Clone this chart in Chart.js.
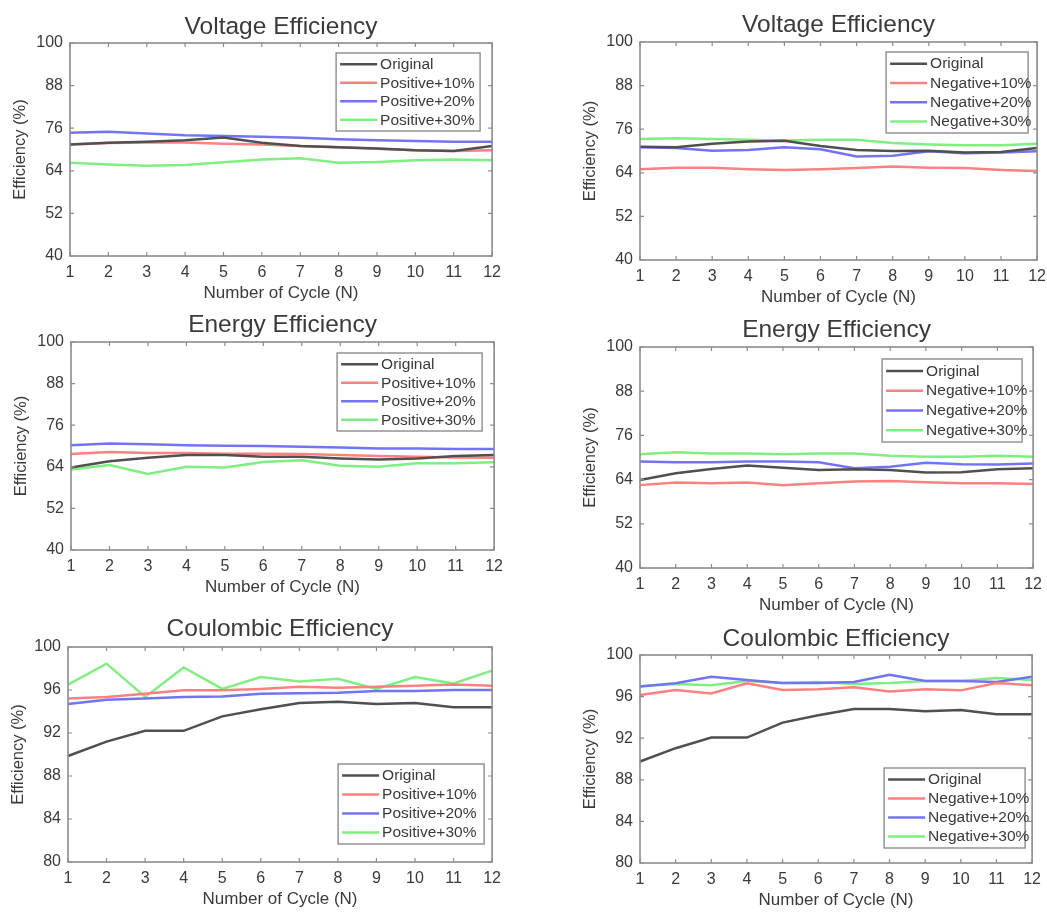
<!DOCTYPE html>
<html>
<head>
<meta charset="utf-8">
<script src="https://cdn.jsdelivr.net/npm/chart.js@4/dist/chart.umd.min.js"></script>
<style>
  html, body { margin:0; padding:0; background:#fff; width:1047px; height:913px; overflow:hidden; position:relative; }
  canvas { position:absolute; }
</style>
</head>
<body>
<script>
// ---------------- DATA ----------------
const cycles = ['1','2','3','4','5','6','7','8','9','10','11','12'];
const yTicksVE = [40, 52, 64, 76, 88, 100];
const yTicksCE = [80, 84, 88, 92, 96, 100];

const seriesNamesPos = ['Original', 'Positive+10%', 'Positive+20%', 'Positive+30%'];
const seriesNamesNeg = ['Original', 'Negative+10%', 'Negative+20%', 'Negative+30%'];

// Voltage efficiency - positive electrolyte
const vePosOriginal = [71.4, 71.9, 72.2, 72.6, 73.4, 71.9, 71.0, 70.6, 70.3, 69.8, 69.6, 71.0];
const vePos10 = [71.4, 71.8, 72.0, 72.0, 71.6, 71.4, 71.0, 70.6, 70.2, 69.8, 69.6, 69.8];
const vePos20 = [74.7, 75.0, 74.5, 74.0, 73.8, 73.6, 73.3, 72.9, 72.6, 72.4, 72.2, 72.2];
const vePos30 = [66.3, 65.8, 65.4, 65.6, 66.4, 67.2, 67.5, 66.3, 66.5, 67.0, 67.2, 67.0];

// Voltage efficiency - negative electrolyte
const veNegOriginal = [71.2, 71.0, 72.0, 72.6, 72.8, 71.4, 70.3, 70.0, 70.1, 69.6, 69.7, 70.8];
const veNeg10 = [65.0, 65.4, 65.4, 65.0, 64.8, 65.0, 65.3, 65.7, 65.4, 65.3, 64.8, 64.5];
const veNeg20 = [71.0, 70.8, 70.1, 70.3, 71.0, 70.5, 68.5, 68.7, 69.9, 69.4, 69.6, 69.9];
const veNeg30 = [73.3, 73.5, 73.3, 73.1, 72.9, 73.1, 73.1, 72.2, 71.8, 71.6, 71.6, 72.0];

// Energy efficiency - positive electrolyte
const eePosOriginal = [63.8, 65.6, 66.6, 67.4, 67.4, 66.9, 66.9, 66.4, 66.1, 66.4, 67.1, 67.4];
const eePos10 = [67.7, 68.3, 68.0, 68.0, 67.8, 67.8, 67.7, 67.4, 67.1, 66.9, 66.7, 66.6];
const eePos20 = [70.2, 70.7, 70.5, 70.2, 70.1, 70.0, 69.8, 69.6, 69.3, 69.3, 69.1, 69.1];
const eePos30 = [63.2, 64.5, 61.9, 64.0, 63.8, 65.4, 65.9, 64.3, 64.0, 65.0, 65.0, 65.3];

// Energy efficiency - negative electrolyte
const eeNegOriginal = [63.9, 65.7, 66.9, 67.8, 67.2, 66.6, 66.8, 66.6, 65.9, 66.0, 66.8, 67.1];
const eeNeg10 = [62.5, 63.2, 63.0, 63.2, 62.5, 63.0, 63.5, 63.6, 63.3, 63.0, 63.0, 62.8];
const eeNeg20 = [68.9, 68.7, 68.7, 68.9, 68.9, 68.7, 67.1, 67.5, 68.6, 68.2, 68.1, 68.4];
const eeNeg30 = [70.9, 71.4, 71.1, 71.1, 70.9, 71.1, 71.1, 70.5, 70.2, 70.2, 70.5, 70.2];

// Coulombic efficiency - positive electrolyte
const cePosOriginal = [89.86, 91.2, 92.2, 92.2, 93.55, 94.2, 94.8, 94.9, 94.7, 94.8, 94.4, 94.4];
const cePos10 = [95.2, 95.35, 95.65, 95.97, 95.97, 96.1, 96.3, 96.2, 96.3, 96.4, 96.5, 96.4];
const cePos20 = [94.7, 95.1, 95.2, 95.35, 95.4, 95.65, 95.7, 95.75, 95.9, 95.9, 96.0, 96.0];
const cePos30 = [96.5, 98.45, 95.35, 98.1, 96.1, 97.2, 96.8, 97.05, 96.1, 97.2, 96.6, 97.8];

// Coulombic efficiency - negative electrolyte
const ceNegOriginal = [89.76, 91.04, 92.06, 92.06, 93.5, 94.2, 94.8, 94.8, 94.6, 94.7, 94.3, 94.3];
const ceNeg10 = [96.16, 96.64, 96.3, 97.28, 96.64, 96.7, 96.9, 96.5, 96.7, 96.6, 97.3, 97.1];
const ceNeg20 = [96.96, 97.28, 97.9, 97.6, 97.3, 97.3, 97.4, 98.1, 97.5, 97.5, 97.4, 97.9];
const ceNeg30 = [97.0, 97.2, 97.1, 97.5, 97.3, 97.4, 97.2, 97.3, 97.5, 97.5, 97.8, 97.6];

// ---------------- STYLE ----------------
const FONT = '"Liberation Sans", Arial, Helvetica, sans-serif';
const TEXT = '#3a3a3a';
const AXIS = '#8c8c8c';
const seriesColors = ['#505050', '#ff8080', '#7373f5', '#80ee80'];

// Frame (box) with inward ticks on all four sides
const framePlugin = {
  id: 'matlabFrame',
  afterDatasetsDraw(chart) {
    const { ctx, chartArea: a, scales: { x, y } } = chart;
    ctx.save();
    ctx.strokeStyle = AXIS;
    ctx.lineWidth = 1.6;
    ctx.strokeRect(a.left, a.top, a.right - a.left, a.bottom - a.top);
    const L = 4;
    ctx.lineWidth = 1.2;
    ctx.beginPath();
    x.ticks.forEach((t, i) => {
      const px = x.getPixelForTick(i);
      ctx.moveTo(px, a.bottom); ctx.lineTo(px, a.bottom - L);
      ctx.moveTo(px, a.top); ctx.lineTo(px, a.top + L);
    });
    y.ticks.forEach((t, i) => {
      const py = y.getPixelForTick(i);
      ctx.moveTo(a.left, py); ctx.lineTo(a.left + L, py);
      ctx.moveTo(a.right, py); ctx.lineTo(a.right - L, py);
    });
    ctx.stroke();
    ctx.restore();
  }
};

// MATLAB-style boxed legend inside the axes
const boxLegendPlugin = {
  id: 'boxLegend',
  afterDraw(chart, args, opts) {
    const { ctx, chartArea: a } = chart;
    const w = opts.w, h = opts.h;
    const left = a.right - opts.dx - w;
    const top = opts.corner === 'br' ? a.bottom - opts.dy - h : a.top + opts.dy;
    ctx.save();
    ctx.fillStyle = '#fff';
    ctx.fillRect(left, top, w, h);
    ctx.strokeStyle = AXIS;
    ctx.lineWidth = 1.4;
    ctx.strokeRect(left, top, w, h);
    ctx.font = '15.5px ' + FONT;
    ctx.textBaseline = 'middle';
    ctx.textAlign = 'left';
    const n = chart.data.datasets.length;
    const rowH = (h - 4) / n;
    chart.data.datasets.forEach((ds, i) => {
      const cy = top + 2 + rowH * (i + 0.5);
      ctx.strokeStyle = ds.borderColor;
      ctx.lineWidth = 2.5;
      ctx.beginPath();
      ctx.moveTo(left + 4, cy); ctx.lineTo(left + 41, cy);
      ctx.stroke();
      ctx.fillStyle = TEXT;
      ctx.fillText(ds.label, left + 44, cy + 0.5);
    });
    ctx.restore();
  }
};

function makePanel(p) {
  const YW = 60, XH = 50, TH = 50, RP = 14;
  const cv = document.createElement('canvas');
  const W = (p.r - p.l) + YW + RP;
  const H = (p.b - p.t) + TH + XH;
  cv.width = W; cv.height = H;
  cv.style.left = (p.l - YW) + 'px';
  cv.style.top = (p.t - TH) + 'px';
  cv.style.width = W + 'px'; cv.style.height = H + 'px';
  document.body.appendChild(cv);

  const TS = 24.5;
  const titleLH = TS * 1.2;
  const padTop = p.titleCY + 2 - p.t + TH - titleLH / 2;
  const padBottom = TH - titleLH - padTop;

  new Chart(cv, {
    type: 'line',
    data: {
      labels: cycles,
      datasets: p.series.map((vals, i) => ({
        label: p.names[i],
        data: vals,
        borderColor: seriesColors[i],
        backgroundColor: seriesColors[i],
        borderWidth: 2.5,
        pointRadius: 0,
        tension: 0,
        fill: false
      }))
    },
    options: {
      responsive: false,
      animation: false,
      devicePixelRatio: 1,
      layout: { padding: { left: 0, right: RP, top: 0, bottom: 0 } },
      plugins: {
        legend: { display: false },
        tooltip: { enabled: false },
        title: {
          display: true,
          text: p.title,
          fullSize: false,
          color: TEXT,
          font: { family: FONT, size: TS, weight: 'normal' },
          padding: { top: padTop, bottom: padBottom }
        },
        boxLegend: p.legend
      },
      scales: {
        x: {
          type: 'category',
          offset: false,
          grid: { display: false, drawTicks: false },
          border: { display: false },
          ticks: { color: TEXT, font: { family: FONT, size: 16 }, padding: 7, autoSkip: false, maxRotation: 0 },
          title: { display: true, text: 'Number of Cycle (N)', color: TEXT, font: { family: FONT, size: 17 }, padding: { top: 0, bottom: 2.8 } },
          afterFit(s) { s.height = XH; }
        },
        y: {
          min: p.yTicks[0],
          max: p.yTicks[p.yTicks.length - 1],
          grid: { display: false, drawTicks: false },
          border: { display: false },
          ticks: { color: TEXT, font: { family: FONT, size: 16 }, padding: 7, stepSize: p.yTicks[1] - p.yTicks[0] },
          title: { display: true, text: 'Efficiency (%)', color: TEXT, font: { family: FONT, size: 16.5 }, padding: { top: 1, bottom: 0 } },
          afterFit(s) { s.width = YW; }
        }
      }
    },
    plugins: [framePlugin, boxLegendPlugin]
  });
}

makePanel({ l: 70, t: 43, r: 494, b: 256, titleCY: 25, title: 'Voltage Efficiency', yTicks: yTicksVE,
  names: seriesNamesPos, series: [vePosOriginal, vePos10, vePos20, vePos30],
  legend: { corner: 'tr', dx: 12, dy: 10, w: 144, h: 78 } });
makePanel({ l: 640, t: 42, r: 1039, b: 260, titleCY: 23, title: 'Voltage Efficiency', yTicks: yTicksVE,
  names: seriesNamesNeg, series: [veNegOriginal, veNeg10, veNeg20, veNeg30],
  legend: { corner: 'tr', dx: 9, dy: 10, w: 142, h: 81 } });
makePanel({ l: 71, t: 342, r: 496, b: 550, titleCY: 323, title: 'Energy Efficiency', yTicks: yTicksVE,
  names: seriesNamesPos, series: [eePosOriginal, eePos10, eePos20, eePos30],
  legend: { corner: 'tr', dx: 12, dy: 11, w: 145, h: 78 } });
makePanel({ l: 640, t: 347, r: 1035, b: 568, titleCY: 328, title: 'Energy Efficiency', yTicks: yTicksVE,
  names: seriesNamesNeg, series: [eeNegOriginal, eeNeg10, eeNeg20, eeNeg30],
  legend: { corner: 'tr', dx: 11, dy: 12, w: 140, h: 83 } });
makePanel({ l: 68, t: 647, r: 494, b: 862, titleCY: 627, title: 'Coulombic Efficiency', yTicks: yTicksCE,
  names: seriesNamesPos, series: [cePosOriginal, cePos10, cePos20, cePos30],
  legend: { corner: 'br', dx: 8, dy: 18, w: 146, h: 80 } });
makePanel({ l: 640, t: 655, r: 1034, b: 863, titleCY: 637, title: 'Coulombic Efficiency', yTicks: yTicksCE,
  names: seriesNamesNeg, series: [ceNegOriginal, ceNeg10, ceNeg20, ceNeg30],
  legend: { corner: 'br', dx: 7, dy: 15, w: 141, h: 80 } });
</script>
</body>
</html>
